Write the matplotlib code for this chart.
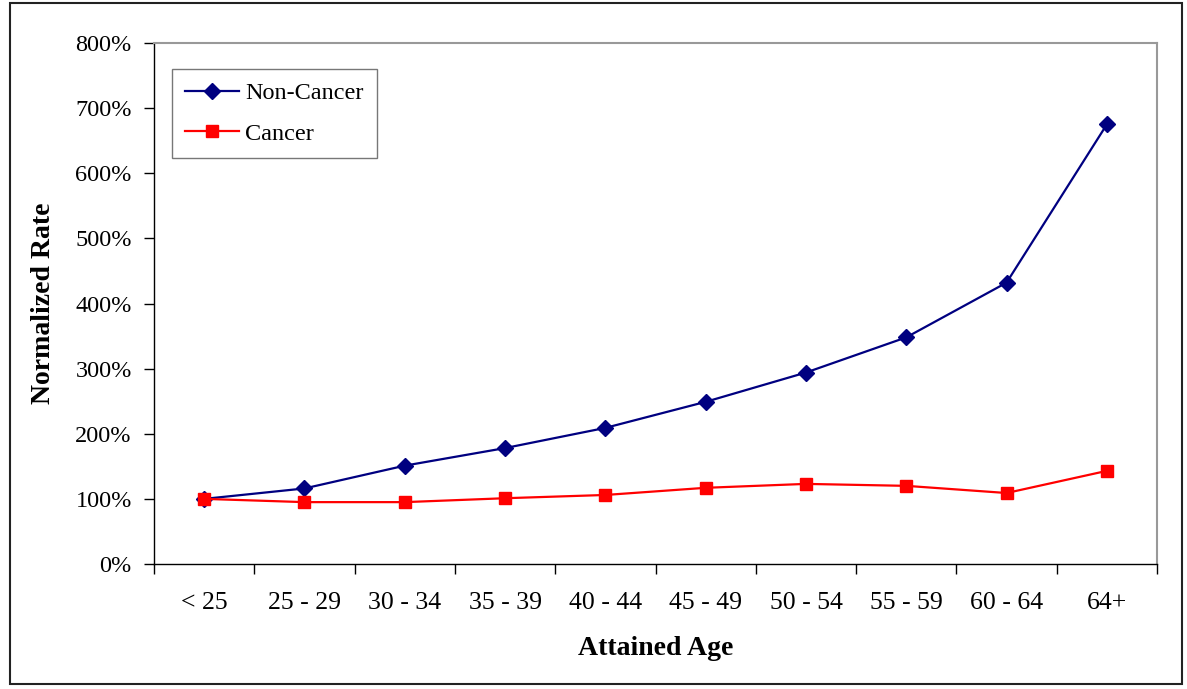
import matplotlib.pyplot as plt
from matplotlib.patches import Rectangle
from matplotlib.ticker import FuncFormatter, FixedLocator, NullFormatter

# age bands and normalized rates (1.0 = 100%)
age_bands = ["< 25", "25 - 29", "30 - 34", "35 - 39", "40 - 44",
             "45 - 49", "50 - 54", "55 - 59", "60 - 64", "64+"]
non_cancer = [1.00, 1.16, 1.51, 1.78, 2.09, 2.49, 2.94, 3.48, 4.32, 6.75]
cancer = [1.00, 0.95, 0.95, 1.01, 1.06, 1.17, 1.23, 1.20, 1.09, 1.43]

plt.rcParams['font.family'] = ['Liberation Serif', 'DejaVu Serif']

fig = plt.figure(figsize=(11.87, 6.89), dpi=100)
ax = fig.add_axes([154 / 1187, 1 - 564 / 689, 1003 / 1187, 521 / 689])

x = list(range(len(age_bands)))
ax.plot(x, non_cancer, color='#000080', lw=1.6, marker='D', ms=8,
        label='Non-Cancer')
ax.plot(x, cancer, color='#ff0000', lw=1.6, marker='s', ms=8.5,
        label='Cancer')

ax.set_xlim(-0.5, len(age_bands) - 0.5)
ax.set_ylim(0, 8)
ax.set_yticks(range(0, 9))
ax.yaxis.set_major_formatter(FuncFormatter(lambda v, p: f"{v * 100:.0f}%"))

# category labels centred, tick marks on the boundaries
ax.xaxis.set_major_locator(FixedLocator([i - 0.5 for i in range(len(age_bands) + 1)]))
ax.xaxis.set_major_formatter(NullFormatter())
ax.xaxis.set_minor_locator(FixedLocator(x))
ax.set_xticklabels(age_bands, minor=True)
ax.tick_params(axis='x', which='minor', length=0, pad=20, labelsize=18.5)
ax.tick_params(axis='x', which='major', length=7, width=1, direction='out')
ax.tick_params(axis='y', length=7, width=1, direction='out', labelsize=17.5, pad=9)

for side in ['top', 'right']:
    ax.spines[side].set_color('#999999')
    ax.spines[side].set_linewidth(1.5)
for side in ['left', 'bottom']:
    ax.spines[side].set_color('black')
    ax.spines[side].set_linewidth(1)

ax.set_xlabel('Attained Age', fontsize=20, fontweight='bold', labelpad=16)
ax.set_ylabel('Normalized Rate', fontsize=20, fontweight='bold', labelpad=14)

leg = ax.legend(loc='upper left', bbox_to_anchor=(18 / 1003, 1 - 26 / 521),
                fontsize=17.5, frameon=True, fancybox=False, borderpad=0.55,
                labelspacing=0.75, handlelength=2.2, handletextpad=0.25,
                borderaxespad=0)
leg.get_frame().set_edgecolor('#555555')
leg.get_frame().set_linewidth(1)

# outer chart border
fig.patches.append(Rectangle((10 / 1187, 1 - 684 / 689), 1172 / 1187, 681 / 689,
                             transform=fig.transFigure, fill=False,
                             edgecolor='#222222', lw=1.5))

fig.savefig('out.png', dpi=100)
